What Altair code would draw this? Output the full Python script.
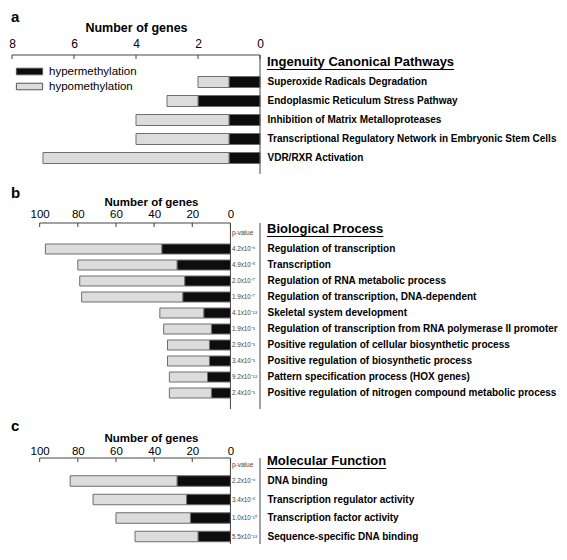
import altair as alt
import pandas as pd

FONT = "Liberation Sans"

# ---------------- data ----------------
hyper_label = "hypermethylation"
hypo_label = "hypomethylation"

a_header = "Ingenuity Canonical Pathways"
a_terms = ["Superoxide Radicals Degradation",
           "Endoplasmic Reticulum Stress Pathway",
           "Inhibition of Matrix Metalloproteases",
           "Transcriptional Regulatory Network in Embryonic Stem Cells",
           "VDR/RXR Activation"]
a_total = [2, 3, 4, 4, 7]
a_hyper = [1, 2, 1, 1, 1]
a_ticks = [0, 2, 4, 6, 8]

b_header = "Biological Process"
b_terms = ["Regulation of transcription",
           "Transcription",
           "Regulation of RNA metabolic process",
           "Regulation of transcription, DNA-dependent",
           "Skeletal system development",
           "Regulation of transcription from RNA polymerase II promoter",
           "Positive regulation of cellular biosynthetic process",
           "Positive regulation of biosynthetic process",
           "Pattern specification process (HOX genes)",
           "Positive regulation of nitrogen compound metabolic process"]
b_total = [97, 80, 79, 78, 37, 35, 33, 33, 32, 32]
b_hyper = [36, 28, 24, 25, 14, 10, 11, 11, 12, 10]
b_pval = ["4.2x10⁻⁶", "4.9x10⁻⁵", "2.0x10⁻⁷", "1.9x10⁻⁷", "4.1x10⁻¹³",
          "1.9x10⁻³", "2.9x10⁻³", "3.4x10⁻³", "9.2x10⁻¹²", "2.4x10⁻³"]
b_ticks = [0, 20, 40, 60, 80, 100]

c_header = "Molecular Function"
c_terms = ["DNA binding",
           "Transcription regulator activity",
           "Transcription factor activity",
           "Sequence-specific DNA binding"]
c_total = [84, 72, 60, 50]
c_hyper = [28, 23, 21, 17]
c_pval = ["2.2x10⁻⁴", "3.4x10⁻⁸", "1.0x10⁻¹⁰", "5.5x10⁻¹³"]
c_ticks = [0, 20, 40, 60, 80, 100]

x_title = "Number of genes"
pval_header = "p-value"

# ---------------- helpers ----------------
ARIAL_BOLD = {"I": 278, "n": 611, "g": 611, "e": 556, "u": 611, "i": 278, "t": 333,
              "y": 556, " ": 278, "C": 722, "a": 556, "o": 611, "c": 556, "l": 278,
              "P": 667, "h": 611, "w": 778, "s": 556, "B": 722, "r": 389, "M": 833,
              "F": 611}


def text_width(s, size):
    return sum(ARIAL_BOLD.get(ch, 600) for ch in s) / 1000.0 * size


W = 248
LINE = "#444444"


def panel(letter, header, terms, total, hyper, ticks, pvals, xdomain, H,
          first_center, step, bar_h, letter_y, header_y, tick_fs, title_fs,
          label_pad, title_pad, title_x=None, show_legend=False):
    rows = []
    for t, tot, hy in zip(terms, total, hyper):
        rows.append({"term": t, "type": hyper_label, "start": 0, "end": hy})
        rows.append({"term": t, "type": hypo_label, "start": hy, "end": tot})
    df = pd.DataFrame(rows)

    xs = alt.Scale(domain=xdomain, reverse=True, nice=False, zero=False)
    pi = 1 - bar_h / step
    top = first_center - step / 2
    ys = alt.Scale(domain=terms, range=[top, top + step * len(terms)],
                   paddingInner=pi, paddingOuter=pi / 2)

    axis_kw = dict(orient="top", values=ticks, title=x_title, domain=False,
                   ticks=False, grid=False, labelFlush=False, labelOverlap=False,
                   labelFontSize=tick_fs, labelColor="black", labelPadding=label_pad,
                   titleFontSize=title_fs, titleFontWeight="bold", titleColor="black",
                   titlePadding=title_pad)
    if title_x is not None:
        axis_kw.update(titleX=title_x, titleAlign="center")
    xaxis = alt.Axis(**axis_kw)
    yaxis = alt.Axis(orient="right", title=None, ticks=False, domain=False,
                     labelFontWeight="bold", labelFontSize=10,
                     labelColor="black", labelPadding=7, labelLimit=400)

    if show_legend:
        legend = alt.Legend(orient="none", legendX=10, legendY=9, title=None,
                            symbolType="M-2,-0.5L2,-0.5L2,0.5L-2,0.5Z",
                            symbolSize=172, symbolStrokeColor="#555555",
                            symbolStrokeWidth=1, labelFontSize=11.5,
                            labelColor="black", labelOffset=12, rowPadding=2,
                            padding=0)
    else:
        legend = None

    bars = alt.Chart(df).mark_bar(stroke="#6e6e6e", strokeWidth=1).encode(
        x=alt.X("start:Q", scale=xs, axis=xaxis),
        x2="end:Q",
        y=alt.Y("term:N", scale=ys, sort=None, axis=yaxis),
        color=alt.Color("type:N",
                        scale=alt.Scale(domain=[hyper_label, hypo_label],
                                        range=["#0d0d0d", "#dcdcdc"]),
                        legend=legend),
    )

    top_line = alt.Chart(pd.DataFrame({"start": [max(ticks)], "end": [0]})).mark_rule(
        color=LINE, strokeWidth=1).encode(
        x=alt.X("start:Q", axis=xaxis), x2="end:Q", y=alt.value(0))

    tick_marks = alt.Chart(pd.DataFrame({"start": ticks})).mark_rule(
        color=LINE, strokeWidth=1).encode(
        x=alt.X("start:Q", axis=xaxis), y=alt.value(0), y2=alt.value(4))

    right_line = alt.Chart(pd.DataFrame({"t": [header]})).mark_rule(
        color=LINE, strokeWidth=1).encode(
        x=alt.value(W), y=alt.value(0), y2=alt.value(H))

    letter_txt = alt.Chart(pd.DataFrame({"t": [letter]})).mark_text(
        align="left", baseline="middle", fontSize=15, fontWeight="bold",
        color="black").encode(x=alt.value(-1), y=alt.value(letter_y), text="t:N")

    head_txt = alt.Chart(pd.DataFrame({"t": [header]})).mark_text(
        align="left", baseline="middle", fontSize=13, fontWeight="bold",
        color="black").encode(x=alt.value(W + 7), y=alt.value(header_y), text="t:N")

    uw = text_width(header, 13)
    underline = alt.Chart(pd.DataFrame({"t": [header]})).mark_rule(
        color="black", strokeWidth=1.2).encode(
        x=alt.value(W + 7), x2=alt.value(W + 7 + uw), y=alt.value(header_y + 7.5))

    layers = [bars, top_line, tick_marks, right_line, letter_txt, head_txt, underline]

    if pvals is not None:
        zero_line = alt.Chart(pd.DataFrame({"start": [0]})).mark_rule(
            color=LINE, strokeWidth=1).encode(
            x=alt.X("start:Q", axis=xaxis), y=alt.value(0), y2=alt.value(H))
        pv = alt.Chart(pd.DataFrame({"term": terms, "p": pvals,
                                     "start": [0] * len(terms)})).mark_text(
            align="left", baseline="middle", dx=1.5, fontSize=6.3, color="#444444").encode(
            x=alt.X("start:Q", axis=xaxis), y=alt.Y("term:N", axis=yaxis), text="p:N")
        pvh = alt.Chart(pd.DataFrame({"t": [pval_header], "start": [0]})).mark_text(
            align="left", baseline="middle", dx=1.5, fontSize=6.5, color="#444444").encode(
            x=alt.X("start:Q", axis=xaxis), y=alt.value(header_y + 4), text="t:N")
        layers += [zero_line, pv, pvh]

    return alt.layer(*layers).properties(width=W, height=H)


pa = panel("a", a_header, a_terms, a_total, a_hyper, a_ticks, None, [0, 8], 119,
           first_center=27, step=19, bar_h=11, letter_y=-38, header_y=7,
           tick_fs=12, title_fs=12.5, label_pad=5, title_pad=3, show_legend=True)
pb = panel("b", b_header, b_terms, b_total, b_hyper, b_ticks, b_pval, [-15.5, 114.5], 186,
           first_center=26, step=16, bar_h=10, letter_y=-30, header_y=6,
           tick_fs=11.5, title_fs=11.5, label_pad=4, title_pad=1, title_x=139)
pc = panel("c", c_header, c_terms, c_total, c_hyper, c_ticks, c_pval, [-15.5, 114.5], 86,
           first_center=23, step=18.5, bar_h=10.5, letter_y=-32, header_y=3,
           tick_fs=11.5, title_fs=11.5, label_pad=2, title_pad=2, title_x=139)

chart = alt.vconcat(pa, pb, pc, spacing=49, bounds="flush").resolve_scale(
    color="independent").resolve_legend(color="independent").properties(
    padding={"top": 2, "left": 0, "right": 0, "bottom": 0}).configure(
    font=FONT).configure_view(stroke=None).configure_axis(
    labelFont=FONT, titleFont=FONT).configure_legend(labelFont=FONT).configure_text(font=FONT)

chart.save("out.html", embed_options={"renderer": "svg", "actions": False})
